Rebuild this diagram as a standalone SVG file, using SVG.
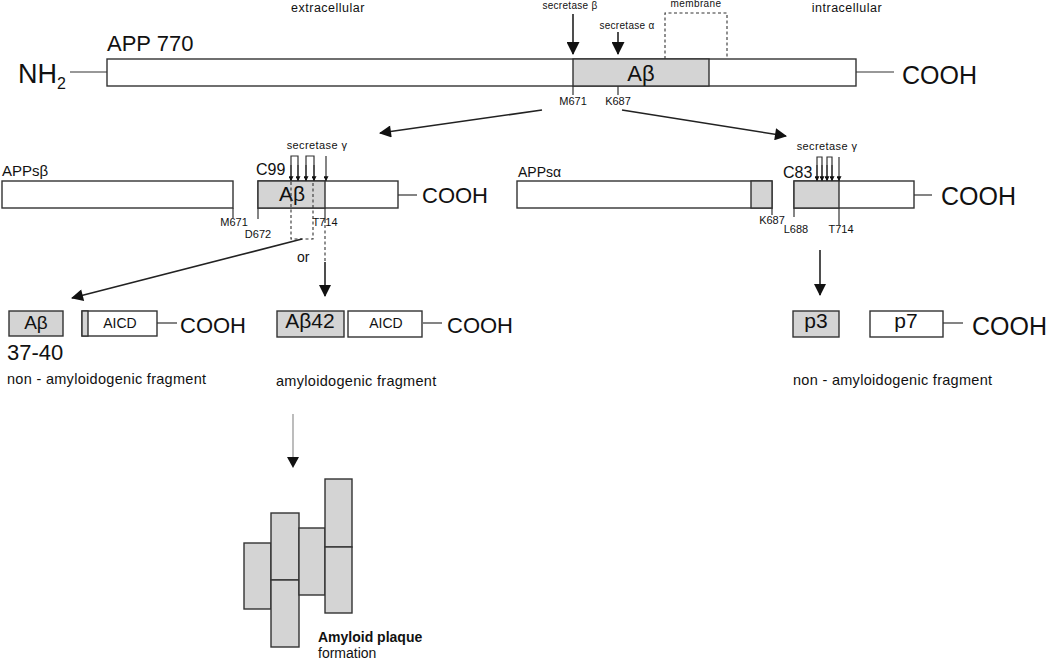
<svg xmlns="http://www.w3.org/2000/svg" width="1050" height="661" viewBox="0 0 1050 661">
<defs>
<style>
text{font-family:"Liberation Sans",Arial,sans-serif;fill:#111}
.box{fill:#fff;stroke:#333;stroke-width:1.4}
.g{fill:#d4d4d4;stroke:#333;stroke-width:1.4}
.ln{stroke:#333;stroke-width:1.2;fill:none}
.dash{stroke:#333;stroke-width:1.1;fill:none;stroke-dasharray:3 2.5}
.arr{stroke:#222;stroke-width:1.6;fill:none}
.sm{font-size:11px}
.lab{font-size:14.5px;letter-spacing:0.3px}
.big{font-size:22px}
.mid{text-anchor:middle}
</style>
<marker id="ah" viewBox="0 0 12 12" refX="11" refY="6" markerWidth="14" markerHeight="12" markerUnits="userSpaceOnUse" orient="auto"><path d="M0,0 L12,6 L0,12 Z" fill="#111"/></marker>
<marker id="ahb" viewBox="0 0 12 12" refX="11" refY="6" markerWidth="14" markerHeight="13" markerUnits="userSpaceOnUse" orient="auto"><path d="M0,0 L12,6 L0,12 Z" fill="#111"/></marker>
<marker id="ahs" viewBox="0 0 8 8" refX="7.5" refY="4" markerWidth="6" markerHeight="5" markerUnits="userSpaceOnUse" orient="auto"><path d="M0,0 L8,4 L0,8 Z" fill="#111"/></marker>
</defs>

<g id="labels-top">
<text x="328" y="12" class="mid" font-size="12.5" letter-spacing="0.5">extracellular</text>
<text x="847" y="12" class="mid" font-size="12.5" letter-spacing="0.5">intracellular</text>
<text x="696" y="7" class="mid" font-size="10" letter-spacing="0.4">membrane</text>
<path class="dash" d="M665,59 V13 H727 V59"/>
<text x="570" y="9" class="mid" font-size="10" letter-spacing="0.3">secretase β</text>
<text x="627" y="29" class="mid" font-size="10" letter-spacing="0.3">secretase α</text>
</g>

<g id="app770">
<text x="107" y="51" font-size="22">APP 770</text>
<text x="18" y="83" font-size="27">NH<tspan font-size="16" dy="6">2</tspan></text>
<line class="ln" x1="70" y1="72" x2="107" y2="72"/>
<rect class="box" x="107" y="59" width="749" height="27"/>
<rect class="g" x="573" y="59" width="136" height="27"/>
<text x="641" y="81" class="mid" font-size="22">Aβ</text>
<line class="ln" x1="856" y1="72" x2="894" y2="72"/>
<text x="902" y="84" font-size="25">COOH</text>
<line class="ln" x1="573" y1="86" x2="573" y2="95"/>
<line class="ln" x1="618" y1="86" x2="618" y2="95"/>
<text x="573" y="105" class="mid sm">M671</text>
<text x="618" y="105" class="mid sm">K687</text>
</g>

<g id="appsb">
<text x="2" y="176" font-size="15">APPsβ</text>
<rect class="box" x="2" y="181" width="231" height="27"/>
<line class="ln" x1="233" y1="208" x2="233" y2="218"/>
<text x="234" y="226" class="mid sm">M671</text>
</g>

<g id="c99">
<text x="256" y="175" font-size="16">C99</text>
<rect class="box" x="258" y="181" width="140" height="27"/>
<rect class="g" x="258" y="181" width="67" height="27"/>
<text x="292" y="201" class="mid" font-size="21">Aβ</text>
<path class="dash" d="M291,182 V239 H313 V182"/>
<line class="ln" x1="258" y1="208" x2="258" y2="219"/>
<line class="ln" x1="325" y1="208" x2="325" y2="223"/>
<text x="258" y="238" class="mid sm">D672</text>
<text x="325" y="226" class="mid sm">T714</text>
<line class="ln" x1="398" y1="195" x2="417" y2="195"/>
<text x="422" y="203" class="big">COOH</text>
<text x="317" y="149" class="mid sm" letter-spacing="0.4">secretase γ</text>
</g>

<g id="appsa">
<text x="518" y="177" font-size="14">APPsα</text>
<rect class="box" x="517" y="181" width="255" height="27"/>
<rect class="g" x="751" y="181" width="21" height="27"/>
<line class="ln" x1="772" y1="208" x2="772" y2="215"/>
<text x="772" y="224" class="mid sm">K687</text>
</g>

<g id="c83">
<text x="783" y="178" font-size="16">C83</text>
<rect class="box" x="794" y="181" width="120" height="27"/>
<rect class="g" x="794" y="181" width="45" height="27"/>
<line class="ln" x1="794" y1="208" x2="794" y2="217"/>
<line class="ln" x1="839" y1="208" x2="839" y2="225"/>
<text x="796" y="233" class="mid sm">L688</text>
<text x="841" y="233" class="mid sm">T714</text>
<line class="ln" x1="914" y1="195" x2="932" y2="195"/>
<text x="941" y="205" font-size="25">COOH</text>
<text x="827" y="150" class="mid sm" letter-spacing="0.4">secretase γ</text>
</g>

<g id="ab3740">
<rect class="g" x="9" y="311" width="54" height="25"/>
<text x="36" y="329" class="mid" font-size="19">Aβ</text>
<text x="7" y="360" font-size="22">37-40</text>
<rect class="box" x="82" y="311" width="75" height="25"/>
<rect class="g" x="82" y="311" width="6" height="25"/>
<text x="120" y="328" class="mid" font-size="14">AICD</text>
<line class="ln" x1="157" y1="323" x2="177" y2="323"/>
<text x="180" y="333" class="big">COOH</text>
<text x="7" y="384" class="lab">non - amyloidogenic fragment</text>
</g>

<g id="ab42">
<rect class="g" x="277" y="311" width="67" height="26"/>
<text x="310" y="328" class="mid" font-size="21">Aβ42</text>
<rect class="box" x="348" y="311" width="74" height="26"/>
<text x="386" y="328" class="mid" font-size="14">AICD</text>
<line class="ln" x1="423" y1="323" x2="442" y2="323"/>
<text x="447" y="333" class="big">COOH</text>
<text x="276" y="386" class="lab">amyloidogenic fragment</text>
</g>

<g id="p3p7">
<rect class="g" x="793" y="311" width="46" height="26"/>
<text x="816" y="328" class="mid" font-size="21">p3</text>
<rect class="box" x="870" y="311" width="73" height="26"/>
<text x="906" y="328" class="mid" font-size="21">p7</text>
<line class="ln" x1="943" y1="323" x2="963" y2="323"/>
<text x="972" y="335" font-size="25">COOH</text>
<text x="793" y="385" class="lab">non - amyloidogenic fragment</text>
</g>

<g id="plaque">
<rect class="g" x="244" y="543" width="27" height="66"/>
<rect class="g" x="271" y="513" width="28" height="67"/>
<rect class="g" x="271" y="580" width="28" height="67"/>
<rect class="g" x="299" y="528" width="26" height="67"/>
<rect class="g" x="325" y="479" width="27" height="68"/>
<rect class="g" x="325" y="547" width="27" height="66"/>
<text x="318" y="642" font-size="14" font-weight="bold">Amyloid plaque</text>
<text x="318" y="658" font-size="14">formation</text>
</g>

<g id="connectors">
<line class="arr" x1="573" y1="14" x2="573" y2="54" stroke-width="2" marker-end="url(#ahb)"/>
<line class="arr" x1="618" y1="32" x2="618" y2="54" stroke-width="2" marker-end="url(#ahb)"/>
<line class="arr" x1="542" y1="110" x2="380" y2="133" marker-end="url(#ah)"/>
<line class="arr" x1="622" y1="110" x2="786" y2="136" marker-end="url(#ah)"/>
<path class="ln" d="M291,180 V156 H298 V180"/>
<line class="ln" x1="291" y1="165" x2="291" y2="181" marker-end="url(#ahs)"/>
<line class="ln" x1="298" y1="165" x2="298" y2="181" marker-end="url(#ahs)"/>
<path class="ln" d="M306,180 V156 H314 V180"/>
<line class="ln" x1="306" y1="165" x2="306" y2="181" marker-end="url(#ahs)"/>
<line class="ln" x1="314" y1="165" x2="314" y2="181" marker-end="url(#ahs)"/>
<line class="ln" x1="326" y1="156" x2="326" y2="181" marker-end="url(#ahs)"/>
<path class="ln" d="M817,180 V157 H822 V180"/>
<line class="ln" x1="817" y1="165" x2="817" y2="181" marker-end="url(#ahs)"/>
<line class="ln" x1="822" y1="165" x2="822" y2="181" marker-end="url(#ahs)"/>
<path class="ln" d="M827,180 V157 H832 V180"/>
<line class="ln" x1="827" y1="165" x2="827" y2="181" marker-end="url(#ahs)"/>
<line class="ln" x1="832" y1="165" x2="832" y2="181" marker-end="url(#ahs)"/>
<line class="ln" x1="839" y1="157" x2="839" y2="181" marker-end="url(#ahs)"/>
<line class="dash" x1="325" y1="225" x2="325" y2="262"/>
<text x="297" y="262" font-size="14">or</text>
<line class="arr" x1="325" y1="262" x2="325" y2="296" stroke-width="1.3" marker-end="url(#ah)"/>
<line class="arr" x1="302" y1="239" x2="72" y2="298" stroke-width="1.3" marker-end="url(#ah)"/>
<line class="arr" x1="820" y1="250" x2="820" y2="295" stroke-width="1.3" marker-end="url(#ah)"/>
<line x1="293" y1="414" x2="293" y2="458" stroke="#999" stroke-width="1.3"/>
<path d="M287,457 L299,457 L293,468 Z" fill="#111"/>
</g>
</svg>
